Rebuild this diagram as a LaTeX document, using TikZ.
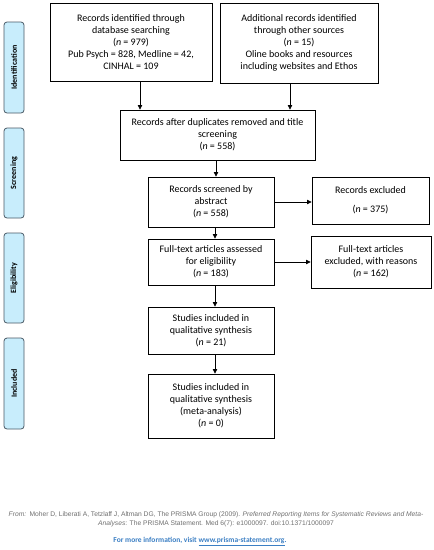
\documentclass[tikz,border=0pt]{standalone}
\usepackage{fontspec}
\setmainfont{Carlito}
\newfontfamily\arialf{Liberation Sans}
\usetikzlibrary{arrows.meta}
\definecolor{sideblue}{HTML}{C8EDFC}
\definecolor{sideedge}{HTML}{4A5A66}
\definecolor{footgrey}{HTML}{707070}
\definecolor{linkblue}{HTML}{3B7FC4}
\begin{document}
\begin{tikzpicture}[x=1pt,y=-1pt,
  box/.style={draw=black,line width=0.9pt,align=center,inner sep=1pt,
    font=\fontsize{10}{12}\selectfont},
  side/.style={draw=sideedge,fill=sideblue,rounded corners=3pt,line width=0.8pt,
    minimum width=20pt,inner sep=0pt},
  sidetxt/.style={rotate=90,font=\fontsize{8}{9}\selectfont\bfseries},
  arr/.style={line width=0.7pt,-{Triangle[length=4.5pt,width=4.5pt]}}]
\fill[white] (0,0) rectangle (434,550);
\useasboundingbox (0,0) rectangle (434,550);
% side labels
\node[side,minimum height=91pt] (s1) at (14,67.5) {};
\node[sidetxt] at (s1) {Identification};
\node[side,minimum height=90pt] (s2) at (14,173) {};
\node[sidetxt] at (s2) {Screening};
\node[side,minimum height=90pt] (s3) at (14,278) {};
\node[sidetxt] at (s3) {Eligibility};
\node[side,minimum height=91pt] (s4) at (14,383.5) {};
\node[sidetxt] at (s4) {Included};
% boxes
\node[box,minimum width=162pt,minimum height=78pt] (A) at (131,42)
  {Records identified through\\database searching\\(\textit{n} = 979)\\Pub Psych = 828, Medline = 42,\\CINHAL = 109};
\node[box,minimum width=158pt,minimum height=80pt] (B) at (299,43)
  {Additional records identified\\through other sources\\(\textit{n} = 15)\\Oline books and resources\\including websites and Ethos};
\node[box,minimum width=195pt,minimum height=50pt] (C) at (217.5,135)
  {Records after duplicates removed and title\\screening\\(\textit{n} = 558)};
\node[box,minimum width=126pt,minimum height=50pt] (D) at (211,202)
  {Records screened by\\abstract\\(\textit{n} = 558)};
\node[box,minimum width=117pt,minimum height=47pt] (E) at (370.5,200.5)
  {Records excluded\\[7pt](\textit{n} = 375)};
\node[box,minimum width=126pt,minimum height=46pt] (F) at (211,262)
  {Full-text articles assessed\\for eligibility\\(\textit{n} = 183)};
\node[box,minimum width=120pt,minimum height=52pt] (G) at (371,262)
  {Full-text articles\\excluded, with reasons\\(\textit{n} = 162)};
\node[box,minimum width=126pt,minimum height=47pt] (H) at (211,330.5)
  {Studies included in\\qualitative synthesis\\(\textit{n} = 21)};
\node[box,minimum width=126pt,minimum height=64pt] (I) at (211,406)
  {Studies included in\\qualitative synthesis\\(meta-analysis)\\(\textit{n} = 0)};
% arrows
\draw[arr] ([xshift=9pt]A.south) -- ([xshift=9pt]A.south |- C.north);
\draw[arr] ([xshift=-9pt]B.south) -- ([xshift=-9pt]B.south |- C.north);
\draw[arr] ([xshift=-1.5pt]C.south) -- ([xshift=-1.5pt]C.south |- D.north);
\draw[arr] (D.east) -- (D.east -| E.west);
\draw[arr] ([xshift=4pt]D.south) -- ([xshift=4pt]F.north);
\draw[arr] (F.east) -- (F.east -| G.west);
\draw[arr] ([xshift=4pt]F.south) -- ([xshift=4pt]H.north);
\draw[arr] ([xshift=4pt]H.south) -- ([xshift=4pt]I.north);
% footer
\node[font=\arialf\fontsize{6.7}{8}\selectfont,text=footgrey,anchor=center] (f1) at (216,515)
  {\textit{From:}\enspace Moher D, Liberati A, Tetzlaff J, Altman DG, The PRISMA Group (2009). \textit{Preferred Reporting Items for Systematic Reviews and Meta-}};
\node[font=\arialf\fontsize{6.7}{8}\selectfont,text=footgrey,anchor=center] (f2) at (216,523.5)
  {\textit{Analyses}: The PRISMA Statement. Med 6(7): e1000097. doi:10.1371/1000097};
\node[font=\fontsize{7.5}{9}\selectfont\bfseries,text=linkblue,anchor=center] (f3) at (200,541.5)
  {For more information, visit \underline{www.prisma-statement.org}.};
\end{tikzpicture}
\end{document}
